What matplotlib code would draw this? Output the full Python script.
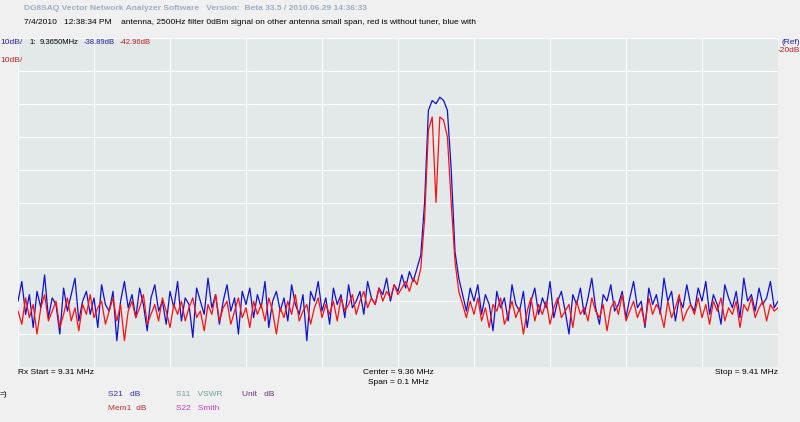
import numpy as np
import matplotlib
matplotlib.use("Agg")
import matplotlib.pyplot as plt
plt.rcParams['font.family'] = ['Liberation Sans', 'DejaVu Sans']

f_start, f_stop = 9.31, 9.41
n_points = 201
blue_s21 = [-100,-94,-104,-98,-108,-97,-102,-92,-105,-99,-101,-110,-96,-103,-98,-93,-106,-100,-97,-104,
 -99,-108,-95,-101,-103,-97,-112,-100,-94,-102,-98,-105,-96,-101,-109,-99,-95,-103,-100,-107,
 -97,-102,-94,-106,-99,-101,-111,-96,-100,-104,-93,-102,-98,-107,-100,-95,-103,-99,-110,-97,
 -101,-96,-105,-98,-102,-94,-108,-100,-97,-103,-99,-106,-95,-101,-104,-98,-112,-97,-100,-94,
 -103,-99,-107,-96,-101,-98,-105,-95,-102,-100,-97,-104,-94,-99,-101,-96,-98,-93,-100,-95,
 -97,-92,-96,-91,-94,-90,-86,-70,-42,-39,-40,-38,-39,-42,-60,-85,-93,-98,-103,-96,
 -100,-95,-104,-98,-101,-109,-97,-102,-99,-106,-95,-101,-103,-97,-108,-100,-96,-104,-99,-102,
 -94,-105,-100,-97,-103,-110,-98,-101,-96,-104,-99,-93,-102,-107,-98,-100,-95,-103,-101,-97,
 -105,-99,-94,-102,-100,-108,-96,-101,-98,-104,-93,-100,-97,-106,-99,-102,-95,-101,-103,-96,
 -100,-94,-104,-98,-101,-107,-95,-99,-102,-97,-105,-93,-100,-98,-103,-96,-101,-99,-94,-102,-100]
red_mem1 = [-103,-107,-99,-105,-101,-110,-102,-98,-106,-103,-100,-108,-104,-99,-106,-102,-109,-101,-104,-98,
 -105,-102,-100,-107,-103,-99,-106,-101,-112,-103,-100,-105,-102,-98,-107,-104,-101,-106,-99,-103,
 -108,-101,-104,-100,-106,-102,-99,-105,-103,-109,-101,-104,-98,-106,-102,-100,-107,-103,-99,-105,
 -102,-108,-100,-104,-101,-106,-99,-103,-110,-102,-105,-100,-104,-98,-106,-103,-101,-107,-102,-99,
 -105,-101,-104,-100,-106,-99,-103,-101,-98,-104,-100,-97,-102,-99,-101,-96,-100,-97,-99,-95,
 -98,-96,-94,-97,-93,-95,-90,-75,-48,-44,-70,-44,-45,-50,-70,-88,-97,-101,-105,-100,
 -104,-99,-106,-102,-108,-101,-103,-99,-107,-104,-100,-105,-102,-110,-103,-99,-106,-101,-104,-100,
 -107,-102,-99,-105,-103,-101,-108,-100,-104,-102,-106,-99,-103,-105,-101,-109,-102,-100,-104,-98,
 -106,-103,-100,-105,-102,-107,-99,-104,-101,-103,-108,-100,-105,-102,-98,-106,-103,-101,-104,-99,
 -105,-101,-107,-100,-103,-99,-106,-102,-104,-100,-108,-101,-103,-99,-105,-102,-100,-106,-101,-103,-102]
ref_top, ref_bottom = -20, -120

freq = np.linspace(f_start, f_stop, n_points)

fig = plt.figure(figsize=(8, 4.22), dpi=100)
fig.patch.set_facecolor("#f0f0f0")
ax = fig.add_axes([18/800, 1-367/422, 760/800, 329/422])
ax.set_facecolor("#e3e8e8")
ax.plot(freq, blue_s21, color="#1010d0", lw=0.9)
ax.plot(freq, red_mem1, color="#ff1010", lw=0.9)
ax.set_xlim(f_start, f_stop)
ax.set_ylim(ref_bottom, ref_top)
ax.set_xticks(np.linspace(f_start, f_stop, 11))
ax.set_yticks(np.linspace(ref_bottom, ref_top, 11))
ax.grid(color="white", lw=0.8)
ax.tick_params(length=0, labelbottom=False, labelleft=False)
for s in ax.spines.values():
    s.set_visible(False)

def t(x, y, s, c="black", fs=6, **kw):
    fig.text(x/800, 1-y/422, s, color=c, fontsize=fs, va="center", **kw)

t(24, 9, "DG8SAQ Vector Network Analyzer Software   Version:  Beta 33.5 / 2010.06.29 14:36:33", "#9ab0c8", fontweight="bold")
t(24, 22, "7/4/2010   12:38:34 PM    antenna, 2500Hz filter 0dBm signal on other antenna small span, red is without tuner, blue with")
t(0, 42, "10dB/", "#2020a0")
t(0, 60, "10dB/", "#c02020")
t(29, 42, "1:", fs=5.5)
t(40, 42, "9.3650MHz", fs=5.5)
t(84, 42, "-38.89dB", "#2020a0", fs=5.5)
t(120, 42, "-42.96dB", "#c02020", fs=5.5)
t(800, 42, "(Ref)", "#2020a0", ha="right")
t(800, 50, "-20dB", "#c02020", ha="right")
t(18, 373, "Rx Start = 9.31 MHz")
t(398, 373, "Center = 9.36 MHz", ha="center")
t(398, 382, "Span = 0.1 MHz", ha="center")
t(778, 373, "Stop = 9.41 MHz", ha="right")
t(0, 394, "=)")
t(108, 394, "S21   dB", "#3030b0")
t(108, 409, "Mem1  dB", "#c03030")
t(176, 394, "S11   VSWR", "#70a0a0")
t(176, 409, "S22   Smith", "#c040c0")
t(242, 394, "Unit   dB", "#703080")
fig.savefig("out.png", dpi=100, facecolor=fig.get_facecolor())
